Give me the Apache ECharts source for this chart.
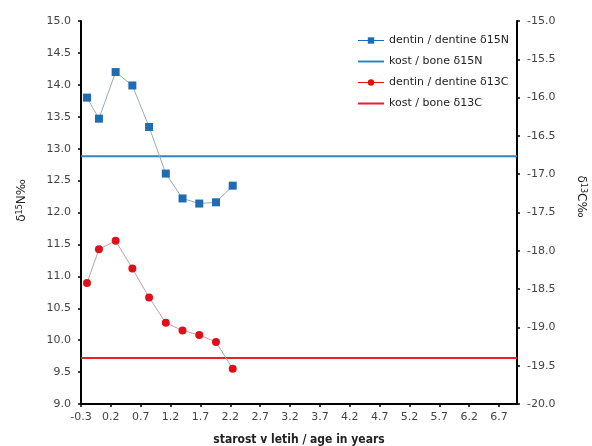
<!DOCTYPE html>
<html>
<head>
<meta charset="utf-8">
<script src="https://cdn.jsdelivr.net/npm/echarts@6/dist/echarts.min.js"></script>
<style>html,body{margin:0;padding:0;background:#fff;}#c{width:592px;height:446px;}</style>
</head>
<body>
<div id="c"></div>
<script>
const ages = [-0.2, 0.0, 0.28, 0.56, 0.84, 1.12, 1.40, 1.68, 1.96, 2.24];
const dentinN = [13.80, 13.47, 14.20, 13.99, 13.34, 12.61, 12.22, 12.14, 12.16, 12.42];
const dentinC = [-18.42, -17.98, -17.87, -18.23, -18.61, -18.94, -19.04, -19.10, -19.19, -19.54];
const boneN = 12.88;
const boneC = -19.40;
const xRange = [-0.3, 7.0];
const seriesNames = ['dentin / dentine δ15N', 'kost / bone δ15N', 'dentin / dentine δ13C', 'kost / bone δ13C'];

const font = 'DejaVu Sans';
const blue = '#1f6cb0', blueBone = '#2f86c6', red = '#e0101a', redBone = '#e8202a';
const chart = echarts.init(document.getElementById('c'), null, {renderer: 'canvas'});
const axisCommon = {
  axisLine: {show: true, onZero: false, lineStyle: {color: '#000', width: 2}},
  axisTick: {show: true, inside: false, length: 3, lineStyle: {color: '#000', width: 1.5}},
  splitLine: {show: false},
  axisLabel: {color: '#444', fontFamily: font, fontSize: 11, formatter: v => v.toFixed(1)}
};
const richTitle = {
  d: {fontFamily: font, fontSize: 12, color: '#222'},
  s: {fontFamily: font, fontSize: 8, color: '#222', verticalAlign: 'top', lineHeight: 10}
};
chart.setOption({
  animation: false,
  backgroundColor: '#fff',
  grid: {left: 81, right: 75, top: 21, bottom: 42, containLabel: false, outerBoundsMode: 'none'},
  legend: {
    orient: 'vertical', left: 352, top: 30, itemWidth: 26, itemHeight: 8, itemGap: 10,
    textStyle: {fontFamily: font, fontSize: 11, color: '#222'},
    data: [
      {name: seriesNames[0], lineStyle: {color: blue, width: 1}},
      {name: seriesNames[1]},
      {name: seriesNames[2], lineStyle: {color: red, width: 1}},
      {name: seriesNames[3]}
    ]
  },
  xAxis: Object.assign({}, axisCommon, {
    type: 'value', min: xRange[0], max: xRange[1], interval: 0.5,
    axisLabel: Object.assign({}, axisCommon.axisLabel, {margin: 8, showMaxLabel: false}),
    name: 'starost v letih / age in years', nameLocation: 'middle', nameGap: 30,
    nameTextStyle: {fontFamily: 'DejaVu Sans Condensed', fontSize: 12, color: '#222', fontWeight: 'bold'}
  }),
  yAxis: [
    Object.assign({}, axisCommon, {
      type: 'value', min: 9, max: 15, interval: 0.5, position: 'left',
      axisLabel: Object.assign({}, axisCommon.axisLabel, {margin: 10}),
      name: '{d|δ}{s|15}{d|N‰}', nameLocation: 'middle', nameGap: 53, nameRotate: 90,
      nameTextStyle: {padding: [0, 0, 0, 24], rich: richTitle}
    }),
    Object.assign({}, axisCommon, {
      type: 'value', min: -20, max: -15, interval: 0.5, position: 'right',
      axisLabel: Object.assign({}, axisCommon.axisLabel, {margin: 10}),
      name: '{d|δ}{s|13}{d|C‰}', nameLocation: 'middle', nameGap: 58, nameRotate: -90,
      nameTextStyle: {padding: [0, 32, 0, 0], rich: richTitle}
    })
  ],
  series: [
    {
      name: seriesNames[0], type: 'line', yAxisIndex: 0,
      data: ages.map((a, i) => [a, dentinN[i]]),
      symbol: 'rect', symbolSize: 8,
      itemStyle: {color: blue},
      lineStyle: {color: '#9aaab8', width: 1},
      z: 5
    },
    {
      name: seriesNames[1], type: 'line', yAxisIndex: 0,
      data: [[xRange[0], boneN], [xRange[1], boneN]],
      symbol: 'none', itemStyle: {color: 'rgba(0,0,0,0)'},
      lineStyle: {color: blueBone, width: 2}
    },
    {
      name: seriesNames[2], type: 'line', yAxisIndex: 1,
      data: ages.map((a, i) => [a, dentinC[i]]),
      symbol: 'circle', symbolSize: 8,
      itemStyle: {color: red},
      lineStyle: {color: '#c0a0a8', width: 1},
      z: 5
    },
    {
      name: seriesNames[3], type: 'line', yAxisIndex: 1,
      data: [[xRange[0], boneC], [xRange[1], boneC]],
      symbol: 'none', itemStyle: {color: 'rgba(0,0,0,0)'},
      lineStyle: {color: redBone, width: 2}
    }
  ]
});
</script>
</body>
</html>
